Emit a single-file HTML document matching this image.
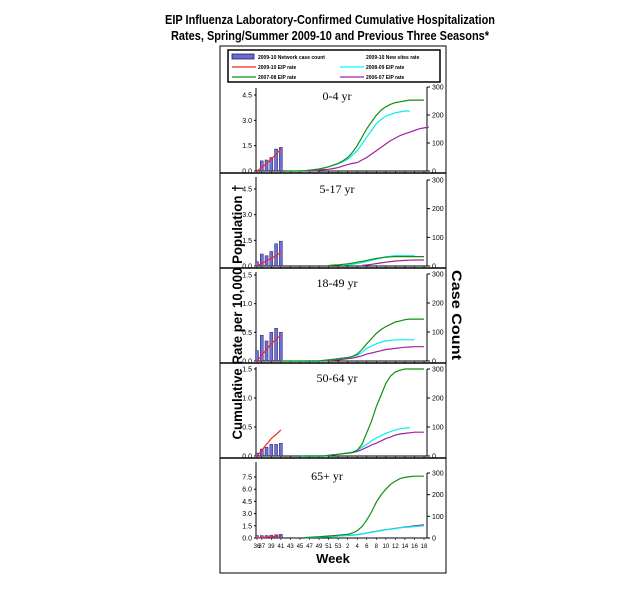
<!DOCTYPE html>
<html><head><meta charset="utf-8"><style>
body{margin:0;background:#fff;width:630px;height:600px;overflow:hidden}
svg{display:block;font-family:"Liberation Sans",Arial,sans-serif}
</style></head><body>
<svg id="chart" width="630" height="600" viewBox="0 0 630 600" xmlns="http://www.w3.org/2000/svg">
<text x="330" y="24" text-anchor="middle" font-size="13" font-weight="bold" textLength="330" lengthAdjust="spacingAndGlyphs">EIP Influenza Laboratory-Confirmed Cumulative Hospitalization</text>
<text x="330" y="40" text-anchor="middle" font-size="13" font-weight="bold" textLength="318" lengthAdjust="spacingAndGlyphs">Rates, Spring/Summer 2009-10 and Previous Three Seasons*</text>
<rect x="220" y="46" width="226" height="527" fill="none" stroke="#000" stroke-width="1"/>
<g>
<rect x="228" y="50" width="212" height="32" fill="none" stroke="#000" stroke-width="1.5"/>
</g>
<g id="panels"></g>
<text transform="translate(242,312) rotate(-90)" text-anchor="middle" font-size="14" font-weight="bold" textLength="255" lengthAdjust="spacingAndGlyphs">Cumulative Rate per 10,000 Population †</text>
<text transform="translate(452,315) rotate(90)" text-anchor="middle" font-size="14" font-weight="bold" textLength="90" lengthAdjust="spacingAndGlyphs">Case  Count</text>
<text x="333" y="563" text-anchor="middle" font-size="13" font-weight="bold">Week</text>
</svg>
<script>
const weekLabels=["36","37","39","41","43","45","47","49","51","53","2","4","6","8","10","12","14","16","18"];
const weekLabelIdx=[0,1,3,5,7,9,11,13,15,17,19,21,23,25,27,29,31,33,35];
const panelNames=["0-4 yr","5-17 yr","18-49 yr","50-64 yr","65+ yr"];
const leftTicks=[[0,1.5,3.0,4.5],[0,1.5,3.0,4.5],[0,0.5,1.0,1.5],[0,0.5,1.0,1.5],[0,1.5,3.0,4.5,6.0,7.5]];
const rightTicks=[0,100,200,300];
const barsCount=[[0.05,0.6,0.65,0.8,1.3,1.4],[0.25,0.7,0.6,0.85,1.3,1.45],[0.18,0.45,0.35,0.5,0.57,0.5],[0.05,0.12,0.15,0.2,0.2,0.22],[0.3,0.3,0.3,0.35,0.4,0.45]];
const rate0910=[[0,0.2,0.45,0.7,1.0,1.3],[0,0.15,0.3,0.45,0.6,0.8],[0,0.1,0.2,0.3,0.38,0.45],[0,0.1,0.2,0.3,0.37,0.45],[0,0.05,0.1,0.15,0.2,0.3]];
// historical seasons, value per week index 0..35 (null = no data)
function S(start,vals){const a=new Array(36).fill(null);vals.forEach((v,i)=>a[start+i]=v);return a;}
const green0708=[
S(6,[0,0,0,0,0.02,0.05,0.08,0.12,0.18,0.25,0.35,0.45,0.6,0.8,1.1,1.5,2.0,2.5,2.9,3.3,3.6,3.8,3.95,4.05,4.1,4.15,4.2,4.2,4.2,4.2]),
S(15,[0.03,0.05,0.07,0.1,0.13,0.17,0.22,0.27,0.33,0.39,0.44,0.48,0.52,0.54,0.55,0.55,0.55,0.55,0.55,0.55,0.55]),
S(5,[0,0,0,0,0,0,0,0,0,0.01,0.02,0.03,0.04,0.05,0.06,0.08,0.12,0.2,0.3,0.39,0.48,0.55,0.6,0.64,0.68,0.7,0.72,0.73,0.73,0.73,0.73]),
S(9,[0,0,0,0,0,0,0.01,0.02,0.03,0.04,0.05,0.06,0.1,0.2,0.4,0.6,0.85,1.05,1.25,1.38,1.45,1.48,1.5,1.5,1.5,1.5,1.5]),
S(10,[0.05,0.08,0.12,0.16,0.2,0.25,0.3,0.35,0.4,0.45,0.6,0.9,1.4,2.2,3.2,4.4,5.3,6.0,6.6,7.0,7.3,7.45,7.55,7.6,7.6,7.6])];
const cyan0809=[
S(6,[0,0,0,0,0.02,0.05,0.08,0.12,0.18,0.25,0.33,0.43,0.55,0.7,0.95,1.2,1.6,2.0,2.4,2.8,3.05,3.25,3.35,3.45,3.5,3.55,3.55]),
S(18,[0.04,0.07,0.1,0.15,0.2,0.26,0.33,0.4,0.47,0.53,0.57,0.6,0.6,0.6,0.6,0.6]),
S(5,[0,0,0,0,0,0,0,0,0,0.01,0.02,0.03,0.04,0.05,0.06,0.08,0.1,0.15,0.22,0.26,0.3,0.33,0.35,0.36,0.37,0.37,0.37,0.37,0.37]),
S(9,[0,0,0,0,0,0,0.01,0.02,0.03,0.04,0.05,0.07,0.1,0.15,0.2,0.26,0.31,0.35,0.39,0.42,0.45,0.47,0.48,0.49]),
S(10,[0.05,0.06,0.08,0.1,0.13,0.17,0.2,0.24,0.28,0.32,0.36,0.42,0.5,0.6,0.7,0.8,0.9,1.0,1.08,1.15,1.25,1.3,1.35,1.4,1.45,1.5])];
const purple0607=[
S(9,[0,0,0,0,0.05,0.08,0.1,0.15,0.2,0.3,0.38,0.45,0.5,0.65,0.8,1.0,1.2,1.4,1.6,1.8,1.95,2.1,2.2,2.3,2.4,2.5,2.55,2.6]),
S(22,[0.03,0.06,0.1,0.14,0.18,0.22,0.26,0.29,0.31,0.33,0.34,0.35,0.35,0.35]),
S(10,[0,0,0,0,0,0.01,0.01,0.02,0.03,0.04,0.05,0.07,0.09,0.12,0.14,0.16,0.18,0.2,0.21,0.22,0.23,0.24,0.245,0.25,0.25,0.25]),
S(10,[0,0,0,0,0,0.01,0.02,0.03,0.04,0.05,0.06,0.08,0.11,0.15,0.19,0.22,0.26,0.3,0.33,0.36,0.38,0.39,0.4,0.41,0.41,0.41]),
S(10,[0.05,0.06,0.08,0.1,0.13,0.17,0.2,0.24,0.28,0.32,0.36,0.42,0.5,0.6,0.72,0.82,0.92,1.02,1.1,1.18,1.27,1.35,1.42,1.5,1.56,1.62])];

const geom=[{b:171,tr:87,lt:95,sep:173},{b:266,tr:180,lt:189,sep:268},{b:361,tr:274,lt:275,sep:363},{b:456,tr:369,lt:369,sep:458},{b:538,tr:473,lt:477,sep:null}];
const NS="http://www.w3.org/2000/svg";
const svg=document.getElementById('panels');
const X0=257,X1=424,AXL=256,AXR=427;
function xs(i){return X0+i*(X1-X0)/35;}
function mk(tag,attrs,parent){const e=document.createElementNS(NS,tag);for(const k in attrs)e.setAttribute(k,attrs[k]);(parent||svg).appendChild(e);return e;}

// legend entries
const legItems=[["2009-10 Network case count","bar",230,57],["2009-10 New sites rate","#fff",338,57],["2009-10 EIP rate","#ff2020",230,67],["2008-09 EIP rate","#00ffff",338,67],["2007-08 EIP rate","#109010",230,77],["2006-07 EIP rate","#a020a0",338,77]];
legItems.forEach(it=>{
 const g=mk('g',{});
 
 
 if(it[1]==="bar"){mk('rect',{x:it[2]+2,y:it[3]-3,width:22,height:5,fill:'#6a6ad0',stroke:'#202060','stroke-width':0.8},g);}
 else mk('line',{x1:it[2]+2,y1:it[3],x2:it[2]+26,y2:it[3],stroke:it[1],'stroke-width':1.3},g);
 const t=mk('text',{x:it[2]+28,y:it[3]+2,'font-size':5,'font-weight':'bold'},g);t.textContent=it[0];
});

geom.forEach((g,p)=>{
 const grp=mk('g',{});
 
 
 const lmax=leftTicks[p][leftTicks[p].length-1];
 const yl=v=>g.b-v/lmax*(g.b-g.lt);
 const yr=v=>g.b-v/300*(g.b-g.tr);
 const topY=p===0?88:geom[p-1].sep+4;
 mk('line',{x1:AXL,y1:g.b,x2:AXL,y2:topY,stroke:'#000','stroke-width':1},grp);
 mk('line',{x1:AXR,y1:g.b,x2:AXR,y2:g.tr,stroke:'#000','stroke-width':1},grp);
 mk('line',{x1:AXL,y1:g.b,x2:AXR,y2:g.b,stroke:'#000','stroke-width':1},grp);
 leftTicks[p].forEach(v=>{
  mk('line',{x1:AXL-2,y1:yl(v),x2:AXL,y2:yl(v),stroke:'#000'},grp);
  const t=mk('text',{x:AXL-4,y:yl(v)+2.5,'text-anchor':'end','font-size':7},grp);
  
  
  t.textContent=v.toFixed(1);
 });
 rightTicks.forEach(v=>{
  mk('line',{x1:AXR,y1:yr(v),x2:AXR+3,y2:yr(v),stroke:'#000'},grp);
  const t=mk('text',{x:AXR+5,y:yr(v)+2.5,'font-size':7},grp);
  
  
  t.textContent=v;
 });
 weekLabelIdx.forEach(i=>mk('line',{x1:xs(i),y1:g.b,x2:xs(i),y2:g.b+2,stroke:'#000','stroke-width':0.6},grp));
 const tt=mk('text',{x:p===4?327:337,y:g.tr+(p===4?7:13),'text-anchor':'middle','font-size':12,'font-family':'Liberation Serif, serif'},grp);
 
 
 tt.textContent=panelNames[p];
 barsCount[p].forEach((v,i)=>{
  const h=g.b-yl(v);
  const r=mk('rect',{x:xs(i)-1.5,y:yl(v),width:3,height:h,fill:'#7070d8',stroke:'#202060','stroke-width':0.5},grp);
  
  
 });
 [[purple0607,'#a020a0'],[cyan0809,'#00f0f0'],[green0708,'#109010']].forEach(([arr,col])=>{
  const d=arr[p].map((v,i)=>v==null?null:xs(i).toFixed(1)+','+yl(v).toFixed(1)).filter(s=>s);
  const l=mk('polyline',{points:d.join(' '),fill:'none',stroke:col,'stroke-width':1.2},grp);
  
  
 });
 const rd=rate0910[p].map((v,i)=>xs(i).toFixed(1)+','+yl(v).toFixed(1));
 const rl=mk('polyline',{points:rd.join(' '),fill:'none',stroke:'#ff2020','stroke-width':1.2},grp);
 
 
 if(g.sep) mk('line',{x1:220,y1:g.sep,x2:446,y2:g.sep,stroke:'#000','stroke-width':1.5},grp);
 if(p===4){
  weekLabels.forEach((w,k)=>{
   const t=mk('text',{x:xs(weekLabelIdx[k]),y:g.b+10,'text-anchor':'middle','font-size':6},grp);
   
   
   t.textContent=w;
  });
 }
});
</script>
</body></html>
